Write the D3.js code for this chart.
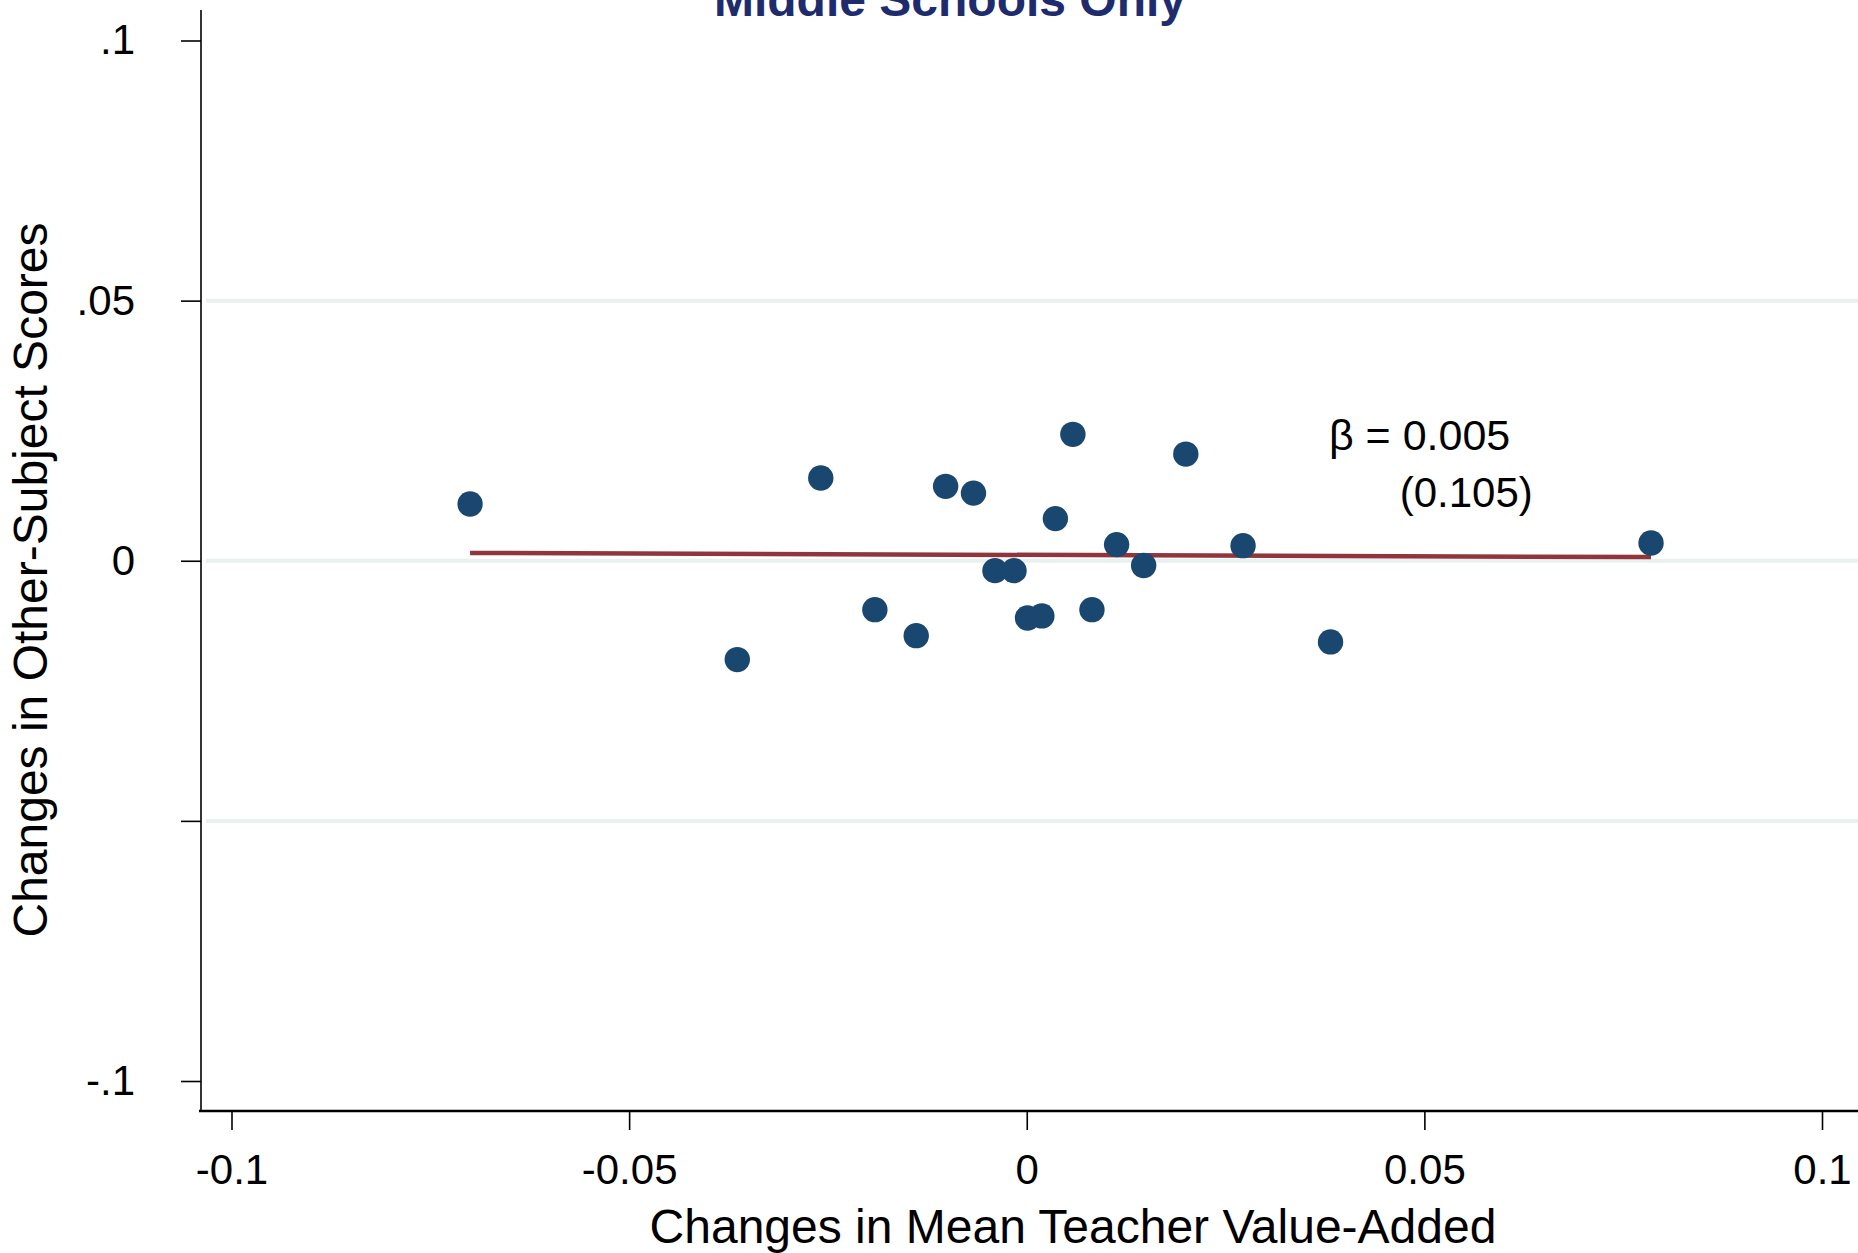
<!DOCTYPE html>
<html>
<head>
<meta charset="utf-8">
<script src="https://cdn.jsdelivr.net/npm/d3@7"></script>
<style>
    html, body { margin: 0; padding: 0; background: #fff; }
    svg { display: block; font-family: "Liberation Sans", Arial, sans-serif; }
</style>
</head>
<body>
<div id="chart"></div>
<script>
// Binned scatter: changes in mean teacher VA vs other-subject scores
const xValues = [-0.0700, -0.0364, -0.0259, -0.0191, -0.0139, -0.0102, -0.0067, -0.0040, -0.0016, 0.0001,
                 0.0019, 0.0036, 0.0058, 0.0082, 0.0113, 0.0147, 0.0200, 0.0272, 0.0382, 0.0785];
const yValues = [0.0109, -0.0190, 0.0159, -0.0094, -0.0144, 0.0143, 0.0130, -0.0019, -0.0019, -0.0110,
                 -0.0106, 0.0081, 0.0243, -0.0094, 0.0031, -0.0009, 0.0205, 0.0029, -0.0156, 0.0034];

// fitted line end points
const fitX = [-0.0700, 0.0785];
const fitY = [0.0015, 0.0007];

const xTicks = [-0.1, -0.05, 0, 0.05, 0.1];
const xTickLabels = ['-0.1', '-0.05', '0', '0.05', '0.1'];
const yTicks = [0.1, 0.05, 0, -0.05, -0.1];
const yTickLabels = ['.1', '.05', '0', '', '-.1'];
const gridValues = [0.05, 0, -0.05];

const titleText = 'Middle Schools Only';
const xTitle = 'Changes in Mean Teacher Value-Added';
const yTitle = 'Changes in Other-Subject Scores';
const betaLines = ['\u03B2 = 0.005', '(0.105)'];

const width = 1858, height = 1253;
const colors = { dot: '#1a476f', fit: '#90353b', grid: '#e9f0f0', title: '#1e2c6e' };

const svg = d3.select('#chart')
    .append('svg')
    .attr('width', width)
    .attr('height', height);

const x = d3.scaleLinear().domain([-0.1, 0.1]).range([231.5, 1822]);
const y = d3.scaleLinear().domain([-0.1, 0.1]).range([1081, 40.5]);

const axisX = 201, axisY = 1111;

// grid lines
svg.append('g')
    .selectAll('line')
    .data(gridValues)
    .enter()
    .append('line')
    .attr('x1', axisX + 5)
    .attr('x2', width)
    .attr('y1', d => y(d))
    .attr('y2', d => y(d))
    .attr('stroke', colors.grid)
    .attr('stroke-width', 4);

// y axis
const yAxis = svg.append('g')
    .attr('transform', `translate(${axisX},0)`)
    .call(d3.axisLeft(y)
        .tickValues(yTicks)
        .tickSize(20)
        .tickPadding(46)
        .tickFormat((d, i) => yTickLabels[i]));
yAxis.select('.domain').remove();
yAxis.append('line')
    .attr('x1', 0).attr('x2', 0)
    .attr('y1', 10).attr('y2', axisY)
    .attr('stroke', '#000')
    .attr('stroke-width', 1.6);
yAxis.selectAll('.tick line').attr('stroke-width', 1.6);
yAxis.selectAll('.tick text')
    .attr('font-size', 42)
    .attr('fill', '#000')
    .attr('font-family', '"Liberation Sans", Arial, sans-serif');

// x axis
const xAxis = svg.append('g')
    .attr('transform', `translate(0,${axisY})`)
    .call(d3.axisBottom(x)
        .tickValues(xTicks)
        .tickSize(19)
        .tickPadding(24)
        .tickFormat((d, i) => xTickLabels[i]));
xAxis.select('.domain').remove();
xAxis.append('line')
    .attr('x1', axisX - 2).attr('x2', width)
    .attr('y1', 0).attr('y2', 0)
    .attr('stroke', '#000')
    .attr('stroke-width', 2.6);
xAxis.selectAll('.tick line').attr('stroke-width', 1.6);
xAxis.selectAll('.tick text')
    .attr('font-size', 42)
    .attr('fill', '#000')
    .attr('font-family', '"Liberation Sans", Arial, sans-serif');

// fitted line
svg.append('path')
    .datum(fitX.map((d, i) => [d, fitY[i]]))
    .attr('fill', 'none')
    .attr('stroke', colors.fit)
    .attr('stroke-width', 4.5)
    .attr('d', d3.line().x(d => x(d[0])).y(d => y(d[1])));

// points
svg.append('g')
    .selectAll('circle')
    .data(xValues.map((d, i) => ({ x: d, y: yValues[i] })))
    .enter()
    .append('circle')
    .attr('cx', d => x(d.x))
    .attr('cy', d => y(d.y))
    .attr('r', 12.7)
    .attr('fill', colors.dot);

// coefficient annotation
svg.append('text')
    .attr('x', x(0.038))
    .attr('y', y(0.0213))
    .attr('font-size', 43)
    .text(betaLines[0]);
svg.append('text')
    .attr('x', x(0.0469))
    .attr('y', y(0.0103))
    .attr('font-size', 42)
    .text(betaLines[1]);

// title (cut off at the top edge, as in the original)
svg.append('text')
    .attr('x', 950)
    .attr('y', 16)
    .attr('text-anchor', 'middle')
    .attr('font-size', 48)
    .attr('font-weight', 'bold')
    .attr('fill', colors.title)
    .text(titleText);

// axis titles
svg.append('text')
    .attr('x', 1073)
    .attr('y', 1243)
    .attr('text-anchor', 'middle')
    .attr('font-size', 48)
    .text(xTitle);

svg.append('text')
    .attr('transform', 'translate(47,580) rotate(-90)')
    .attr('text-anchor', 'middle')
    .attr('font-size', 48)
    .text(yTitle);
</script>
</body>
</html>
